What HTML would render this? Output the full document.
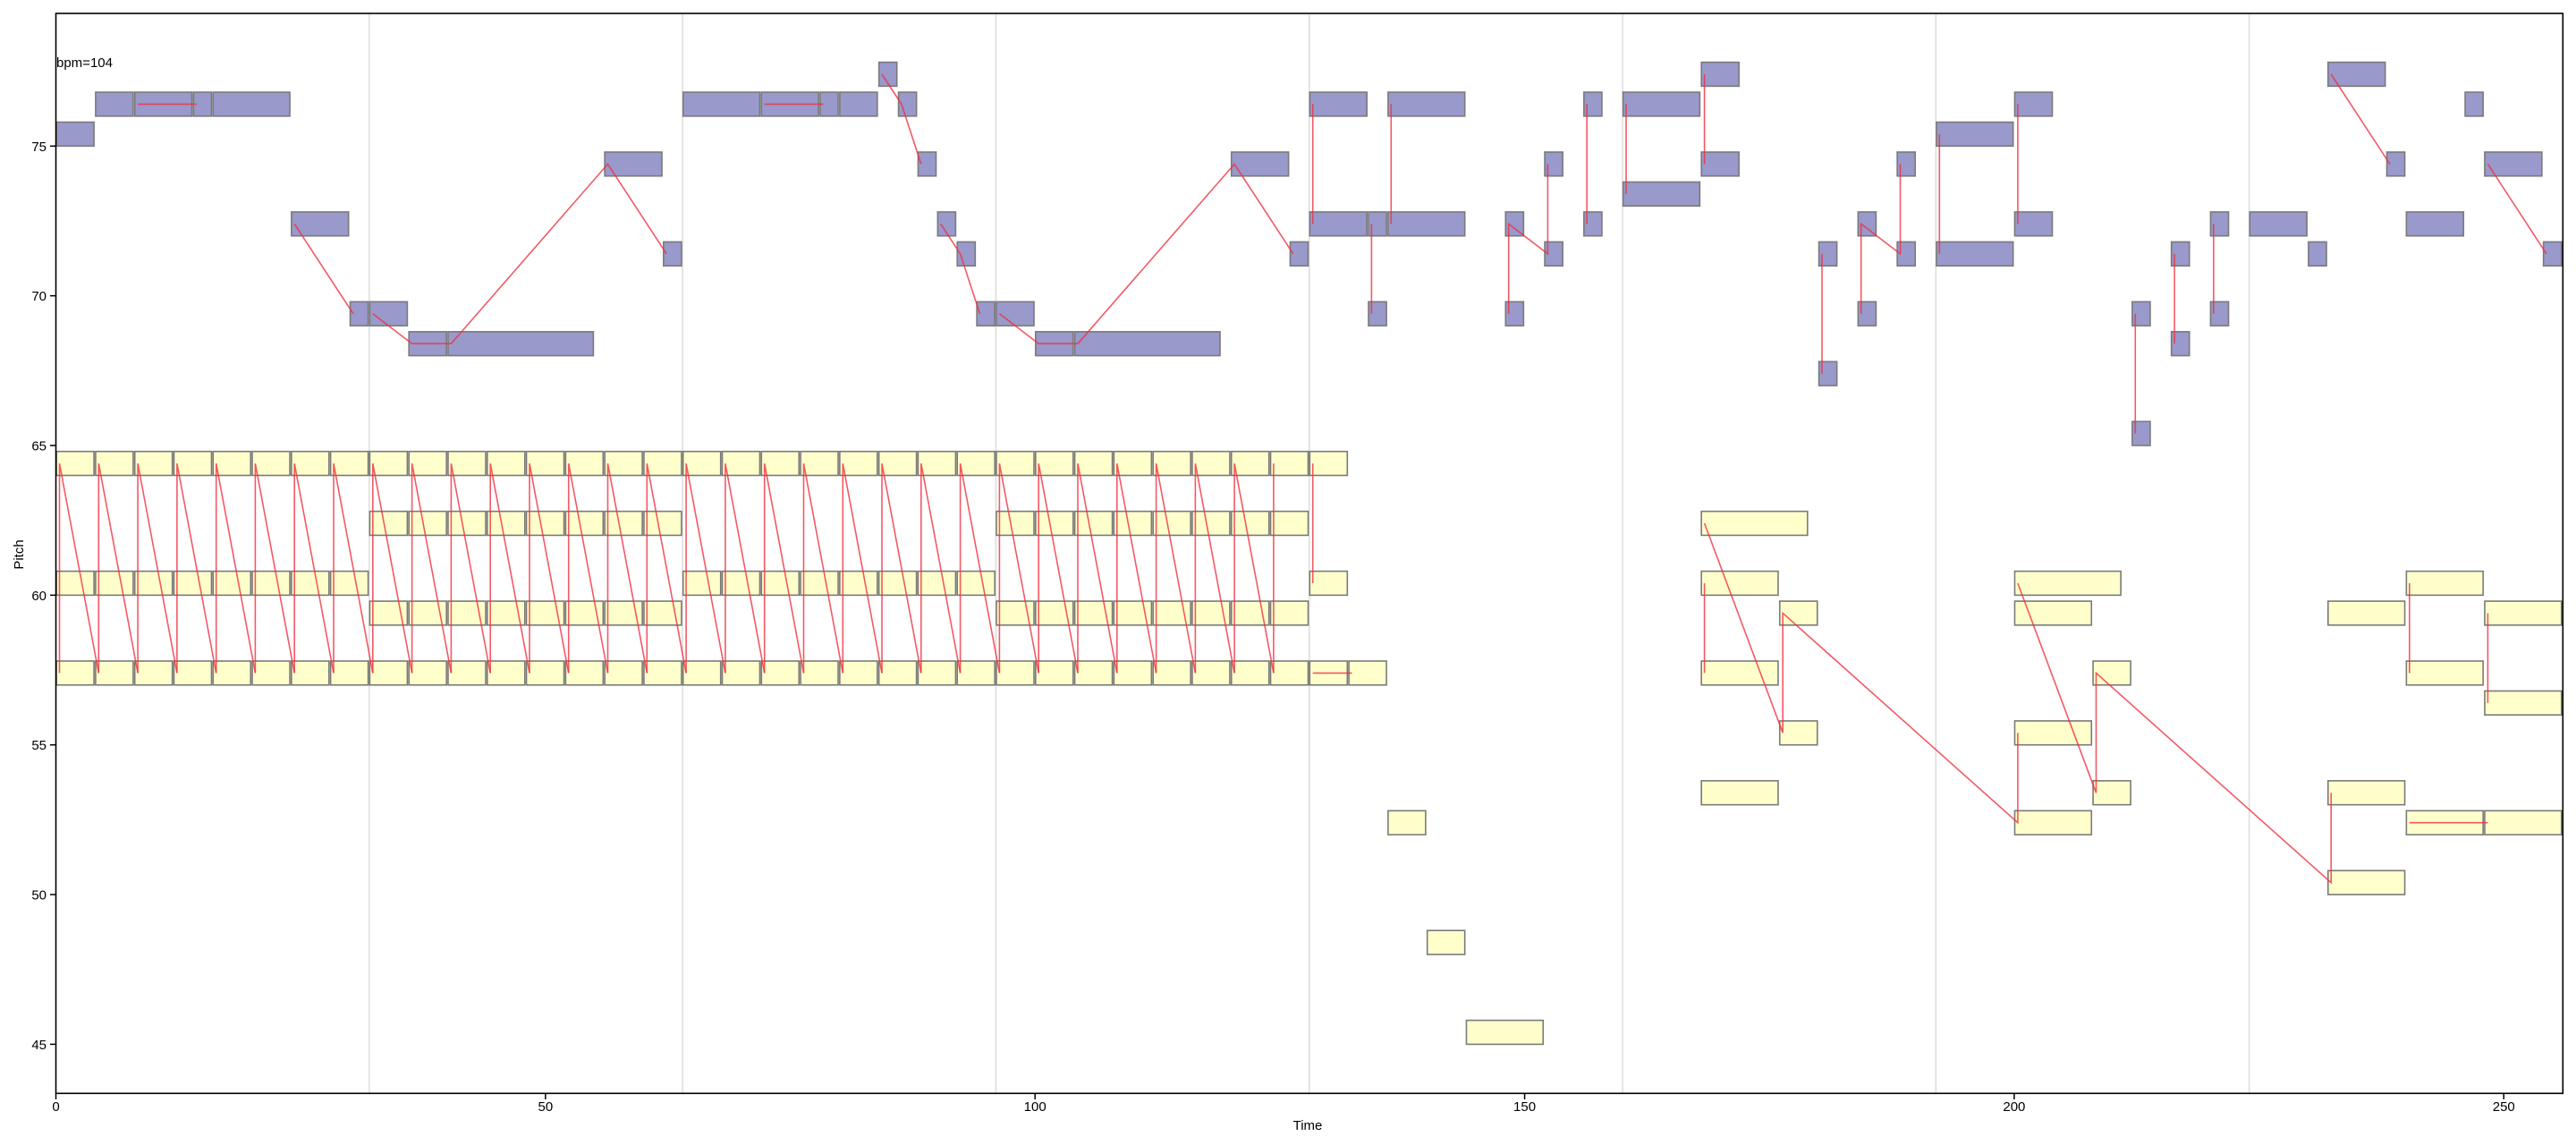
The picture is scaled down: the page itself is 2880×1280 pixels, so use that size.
<!DOCTYPE html>
<html><head><meta charset="utf-8">
<style>
html,body{margin:0;padding:0;background:#fff;}
svg{display:block;}
text{font-family:"Liberation Sans","DejaVu Sans",sans-serif;fill:#000;}
</style></head>
<body>
<svg id="s" xmlns="http://www.w3.org/2000/svg" width="2880" height="1280" viewBox="0 0 2880 1280">
<rect x="0" y="0" width="2880" height="1280" fill="#fff"/>
<g id="grid"></g>
<g id="notes"></g>
<g id="lines"></g>
<g id="axes"></g>
</svg>
<script>
(function(){
var NS="http://www.w3.org/2000/svg";
function X(t){return 62.5+t*10.947;}
function Y(p){return 163.3+(75-p)*33.47;}
function el(parent,tag,attrs,txt){var e=document.createElementNS(NS,tag);for(var k in attrs)e.setAttribute(k,attrs[k]);if(txt!==undefined)e.textContent=txt;document.getElementById(parent).appendChild(e);return e;}
// grid
for(var g=32;g<=224;g+=32){el("grid","line",{x1:X(g),x2:X(g),y1:15,y2:1222,stroke:"#dcdcdc","stroke-width":1.5});}
function note(t,p,d,fill){
  el("notes","rect",{x:X(t)+0.6,y:Y(p+0.8),width:d*10.947-1.8,height:0.8*33.47,fill:fill,stroke:"#7a7a7a","stroke-width":1.6});
}
var mel=[[0,75,4],[4,76,4],[8,76,6],[14,76,2],[16,76,8],[24,72,6],[30,69,2],[32,69,4],[36,68,4],[40,68,15],[56,74,6],[62,71,2],
[64,76,8],[72,76,6],[78,76,2],[80,76,4],[84,77,2],[86,76,2],[88,74,2],[90,72,2],[92,71,2],[94,69,2],[96,69,4],[100,68,4],[104,68,15],[120,74,6],[126,71,2],
[128,76,6],[128,72,6],[134,72,2],[134,69,2],[136,76,8],[136,72,8],[148,72,2],[148,69,2],[152,74,2],[152,71,2],[156,76,2],[156,72,2],[160,76,8],[160,73,8],[168,77,4],[168,74,4],[180,71,2],[180,67,2],[184,72,2],[184,69,2],[188,74,2],[188,71,2],[192,75,8],[192,71,8],[200,76,4],[200,72,4],[212,69,2],[212,65,2],[216,71,2],[216,68,2],[220,72,2],[220,69,2],[224,72,6],[230,71,2],[232,77,6],[238,74,2],[240,72,6],[246,76,2],[248,74,6],[254,71,2]];
var acc=[];
for(var t=0;t<=128;t+=4){acc.push([t,64,4]);acc.push([t,57,4]);}
acc.push([132,57,4]);
for(t=0;t<=28;t+=4)acc.push([t,60,4]);
for(t=64;t<=92;t+=4)acc.push([t,60,4]);
acc.push([128,60,4]);
for(t=32;t<=60;t+=4){acc.push([t,62,4]);acc.push([t,59,4]);}
for(t=96;t<=124;t+=4){acc.push([t,62,4]);acc.push([t,59,4]);}
acc=acc.concat([[136,52,4],[140,48,4],[144,45,8],[168,62,11],[168,60,8],[168,57,8],[168,53,8],[176,59,4],[176,55,4],[200,60,11],[200,59,8],[200,55,8],[200,52,8],[208,57,4],[208,53,4],[232,59,8],[232,53,8],[232,50,8],[240,60,8],[240,57,8],[240,52,8],[248,59,8],[248,56,8],[248,52,8]]);
acc.forEach(function(n){note(n[0],n[1],n[2],"#ffffcc");});
mel.forEach(function(n){note(n[0],n[1],n[2],"#9999cc");});
// lines
var L=[];
for(t=0;t<=120;t+=4){L.push([[t,57],[t,64],[t+4,57]]);}
L.push([[124,57],[124,64]]);
L.push([[128,60],[128,64]]);
L.push([[128,57],[132,57]]);
L=L.concat([
[[168,57],[168,60]],
[[168,62],[176,55],[176,59],[200,52],[200,55]],
[[200,60],[208,53],[208,57],[232,50],[232,53]],
[[240,57],[240,60]],[[240,52],[248,52]],[[248,56],[248,59]],
[[8,76],[14,76]],[[24,72],[30,69]],[[32,69],[36,68],[40,68],[56,74],[62,71]],
[[72,76],[78,76]],[[84,77],[86,76],[88,74]],[[90,72],[92,71],[94,69]],
[[96,69],[100,68],[104,68],[120,74],[126,71]],
[[128,76],[128,72]],[[134,72],[134,69]],[[136,76],[136,72]],
[[148,69],[148,72],[152,71],[152,74]],[[156,72],[156,76]],[[160,73],[160,76]],[[168,74],[168,77]],
[[180,67],[180,71]],[[184,69],[184,72],[188,71],[188,74]],[[192,71],[192,75]],[[200,72],[200,76]],
[[212,65],[212,69]],[[216,68],[216,71]],[[220,69],[220,72]],[[232,77],[238,74]],[[248,74],[254,71]]
]);
L.forEach(function(pl){
  var pts=pl.map(function(q){return (X(q[0])+4).toFixed(1)+","+Y(q[1]+0.4).toFixed(1);}).join(" ");
  el("lines","polyline",{points:pts,fill:"none",stroke:"#f0303f","stroke-opacity":0.8,"stroke-width":1.6});
});
// axes
el("axes","rect",{x:62.5,y:15,width:2865.3-62.5,height:1222.3-15,fill:"none",stroke:"#000","stroke-width":1.6});
for(var v=0;v<=250;v+=50){
  el("axes","line",{x1:X(v),x2:X(v),y1:1222.3,y2:1229,stroke:"#000","stroke-width":1.5});
  el("axes","text",{x:X(v),y:1242,"font-size":15,"text-anchor":"middle"},String(v));
}
for(var p=45;p<=75;p+=5){
  el("axes","line",{x1:56,x2:62.5,y1:Y(p),y2:Y(p),stroke:"#000","stroke-width":1.5});
  el("axes","text",{x:52,y:Y(p)+5.5,"font-size":15,"text-anchor":"end"},String(p));
}
el("axes","text",{x:1462,y:1263,"font-size":15,"text-anchor":"middle"},"Time");
el("axes","text",{x:0,y:0,"font-size":15,"text-anchor":"middle",transform:"translate(26,620) rotate(-90)"},"Pitch");
el("axes","text",{x:63,y:75,"font-size":15},"bpm=104");
})();
</script>
</body></html>
